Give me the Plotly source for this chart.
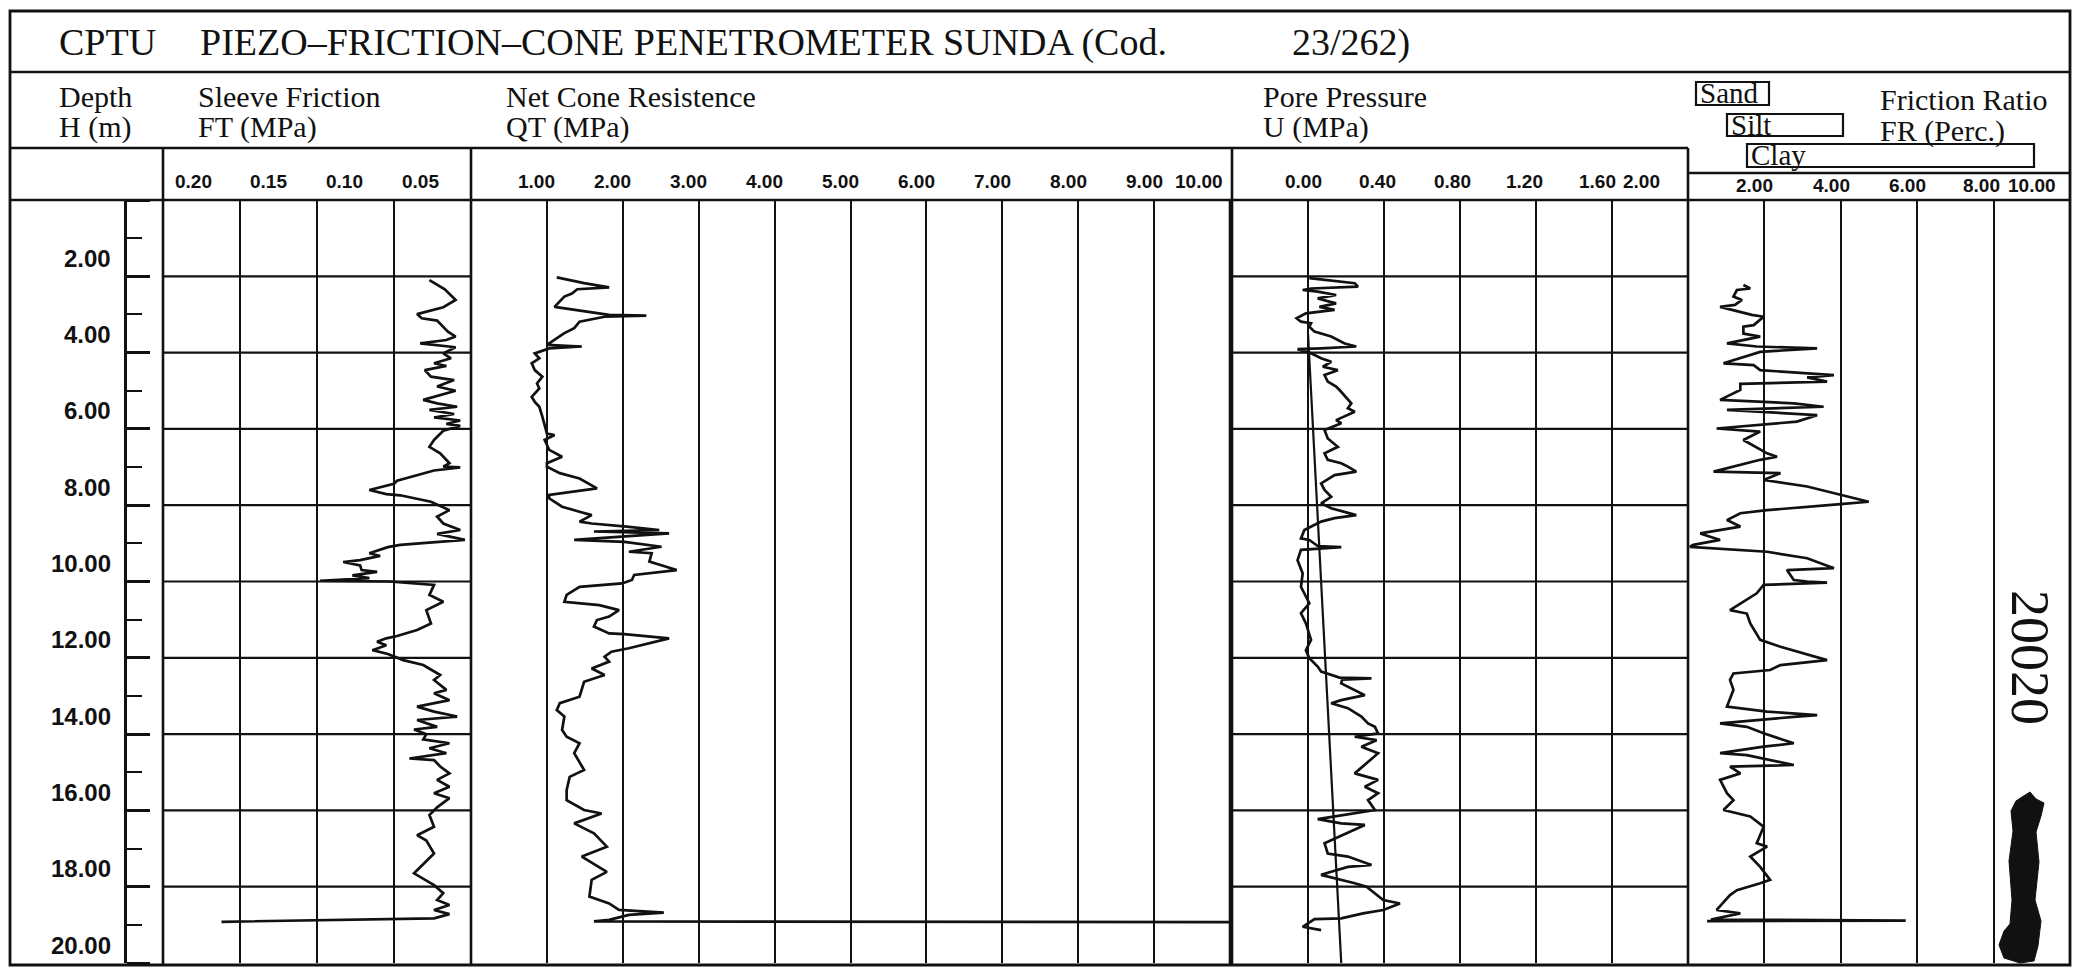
import plotly.graph_objects as go

W, H = 2074, 968

# ---------------- CPTU sounding data (depth in m) ----------------
ft_depth = [2.10, 2.34, 2.62, 2.81, 2.99, 3.10, 3.16, 3.45, 3.58, 3.67, 3.76, 3.86, 4.02, 4.15, 4.28,
            4.35, 4.46, 4.63, 4.72, 4.89, 5.00, 5.09, 5.24, 5.33, 5.42, 5.50, 5.61, 5.70, 5.78, 5.87,
            5.92, 6.05, 6.29, 6.47, 6.64, 6.90, 6.99, 7.01, 7.09, 7.36, 7.44, 7.60, 7.71, 7.74, 7.91,
            8.13, 8.30, 8.48, 8.65, 8.75, 8.91, 9.04, 9.10, 9.26, 9.33, 9.44, 9.49, 9.58, 9.70, 9.75,
            9.84, 9.91, 9.98, 10.00, 10.09, 10.35, 10.53, 10.75, 11.10, 11.27, 11.43, 11.49, 11.58,
            11.67, 11.80, 11.90, 12.06, 12.19, 12.45, 12.58, 12.84, 12.93, 13.11, 13.28, 13.41, 13.54,
            13.63, 13.81, 13.88, 14.00, 14.14, 14.24, 14.37, 14.50, 14.64, 14.68, 14.85, 15.03, 15.20,
            15.38, 15.55, 15.68, 15.92, 16.12, 16.43, 16.65, 16.79, 17.13, 17.65, 17.96, 18.17, 18.35,
            18.48, 18.61, 18.72, 18.83, 18.92]
ft_mpa = [0.027, 0.017, 0.010, 0.018, 0.035, 0.032, 0.022, 0.015, 0.010, 0.016, 0.033, 0.010, 0.018,
          0.013, 0.024, 0.016, 0.030, 0.026, 0.011, 0.022, 0.010, 0.018, 0.031, 0.022, 0.009, 0.027,
          0.011, 0.024, 0.007, 0.016, 0.007, 0.018, 0.024, 0.027, 0.020, 0.014, 0.018, 0.007, 0.024,
          0.048, 0.050, 0.066, 0.055, 0.046, 0.026, 0.014, 0.022, 0.018, 0.007, 0.022, 0.004, 0.046,
          0.054, 0.066, 0.059, 0.072, 0.083, 0.072, 0.071, 0.061, 0.077, 0.066, 0.098, 0.053, 0.024,
          0.027, 0.018, 0.029, 0.026, 0.035, 0.048, 0.055, 0.061, 0.055, 0.064, 0.054, 0.044, 0.031,
          0.020, 0.024, 0.016, 0.024, 0.014, 0.035, 0.024, 0.009, 0.035, 0.022, 0.037, 0.029, 0.031,
          0.014, 0.027, 0.016, 0.040, 0.024, 0.020, 0.014, 0.022, 0.014, 0.024, 0.014, 0.022, 0.027,
          0.024, 0.035, 0.029, 0.024, 0.037, 0.024, 0.018, 0.022, 0.014, 0.024, 0.014, 0.024, 0.162]

qt_depth = [2.03, 2.18, 2.29, 2.34, 2.45, 2.53, 2.80, 2.93, 3.01, 3.03, 3.06, 3.19, 3.36, 3.49, 3.71,
            3.80, 3.84, 3.89, 4.02, 4.15, 4.28, 4.46, 4.63, 4.81, 4.94, 5.16, 5.29, 5.42, 5.68, 5.94,
            6.12, 6.16, 6.29, 6.55, 6.73, 6.90, 6.99, 7.16, 7.30, 7.56, 7.65, 7.73, 7.82, 8.04, 8.17,
            8.26, 8.43, 8.48, 8.56, 8.65, 8.69, 8.74, 8.91, 8.96, 9.09, 9.22, 9.26, 9.48, 9.70, 9.83,
            9.96, 10.05, 10.14, 10.35, 10.53, 10.62, 10.75, 10.92, 11.01, 11.18, 11.36, 11.38, 11.49,
            11.75, 11.84, 11.97, 12.10, 12.28, 12.45, 12.63, 13.02, 13.19, 13.37, 13.54, 13.89, 14.07,
            14.24, 14.50, 14.94, 15.12, 15.47, 15.73, 15.99, 16.08, 16.34, 16.60, 16.95, 17.21, 17.61,
            17.82, 18.26, 18.44, 18.61, 18.68, 18.74, 18.87, 18.91, 18.93]
qt_mpa = [1.13, 1.49, 1.82, 1.40, 1.33, 1.23, 1.10, 1.59, 1.82, 2.31, 1.76, 1.43, 1.36, 1.23, 1.07,
          1.00, 1.46, 1.03, 0.84, 0.90, 0.80, 0.84, 0.94, 0.87, 0.90, 0.80, 0.84, 0.90, 0.94, 0.97,
          1.00, 1.10, 0.97, 1.03, 1.20, 1.00, 1.00, 1.17, 1.43, 1.66, 1.36, 1.03, 1.03, 1.20, 1.43,
          1.59, 1.43, 1.59, 2.05, 2.48, 1.62, 2.61, 1.36, 2.02, 2.51, 2.08, 2.38, 2.35, 2.71, 2.15,
          2.12, 1.99, 1.43, 1.26, 1.23, 1.69, 1.95, 1.82, 1.66, 1.62, 1.82, 2.02, 2.61, 2.08, 1.85,
          1.76, 1.82, 1.59, 1.76, 1.49, 1.43, 1.17, 1.13, 1.23, 1.20, 1.26, 1.43, 1.36, 1.49, 1.30,
          1.26, 1.26, 1.49, 1.72, 1.36, 1.62, 1.79, 1.46, 1.79, 1.59, 1.56, 1.82, 1.95, 2.54, 2.08,
          1.82, 1.62, 10.0]

u_depth = [2.05, 2.18, 2.27, 2.32, 2.36, 2.40, 2.49, 2.58, 2.71, 2.80, 2.88, 2.97, 3.10, 3.19, 3.23,
           3.32, 3.45, 3.58, 3.76, 3.84, 3.89, 3.91, 4.02, 4.15, 4.24, 4.37, 4.46, 4.59, 4.76, 4.89,
           4.98, 5.33, 5.46, 5.55, 5.77, 5.85, 6.03, 6.25, 6.47, 6.64, 6.81, 6.90, 6.99, 7.12, 7.21,
           7.43, 7.60, 7.78, 7.95, 8.08, 8.26, 8.34, 8.43, 8.65, 8.87, 8.91, 9.07, 9.10, 9.17, 9.44,
           9.79, 10.14, 10.57, 10.83, 11.10, 11.53, 11.80, 12.01, 12.23, 12.36, 12.52, 12.54, 12.57,
           12.67, 12.98, 13.11, 13.19, 13.32, 13.54, 13.72, 13.81, 13.98, 14.07, 14.16, 14.33, 14.50,
           15.03, 15.20, 15.38, 15.55, 15.73, 15.99, 16.23, 16.34, 16.38, 16.78, 16.86, 17.13, 17.21,
           17.43, 17.48, 17.61, 17.69, 17.91, 18.00, 18.35, 18.44, 18.61, 18.70, 18.83, 18.85, 19.05,
           19.14]
u_mpa = [0.007, 0.246, 0.263, 0.016, -0.028, 0.051, 0.148, 0.051, 0.148, 0.060, 0.140, -0.011, -0.060,
         -0.037, 0.016, 0.007, 0.034, 0.122, 0.193, 0.254, 0.069, -0.055, 0.016, 0.069, 0.122, 0.078,
         0.157, 0.087, 0.104, 0.148, 0.166, 0.228, 0.210, 0.246, 0.148, 0.175, 0.087, 0.104, 0.157,
         0.087, 0.104, 0.175, 0.210, 0.254, 0.140, 0.069, 0.087, 0.122, 0.069, 0.122, 0.254, 0.140,
         0.069, -0.019, -0.037, 0.007, 0.051, 0.175, -0.037, -0.055, -0.028, -0.037, 0.007, -0.037,
         -0.011, 0.016, -0.011, 0.007, 0.051, 0.069, 0.166, 0.334, 0.180, 0.175, 0.299, 0.175, 0.122,
         0.210, 0.281, 0.316, 0.352, 0.369, 0.246, 0.361, 0.281, 0.369, 0.246, 0.369, 0.299, 0.369,
         0.316, 0.352, 0.051, 0.175, 0.299, 0.122, 0.087, 0.104, 0.210, 0.334, 0.210, 0.122, 0.069,
         0.246, 0.308, 0.396, 0.484, 0.396, 0.290, 0.175, 0.034, -0.028, 0.069]

# hydrostatic pore pressure line
u0_depth = [3.5, 20.0]
u0_mpa = [0.0, 0.175]

fr_depth = [2.23, 2.32, 2.36, 2.53, 2.62, 2.75, 2.80, 3.01, 3.06, 3.28, 3.32, 3.50, 3.58, 3.76, 3.84,
            3.89, 3.98, 4.28, 4.33, 4.46, 4.59, 4.65, 4.76, 4.82, 4.98, 5.24, 5.33, 5.42, 5.50, 5.64,
            5.81, 5.99, 6.07, 6.29, 6.64, 6.73, 6.81, 7.12, 7.16, 7.34, 7.51, 7.73, 7.91, 7.97, 8.13,
            8.21, 8.39, 8.56, 8.74, 8.91, 9.04, 9.09, 9.22, 9.39, 9.65, 9.70, 9.96, 10.00, 10.03, 10.09,
            10.31, 10.75, 10.84, 11.10, 11.53, 11.71, 12.06, 12.19, 12.32, 12.41, 12.58, 12.84, 13.28,
            13.41, 13.50, 13.54, 13.72, 13.81, 13.98, 14.24, 14.33, 14.50, 14.55, 14.81, 14.85, 15.03,
            15.20, 15.55, 15.73, 15.99, 16.16, 16.43, 16.86, 16.95, 17.21, 17.48, 17.82, 17.91, 18.09,
            18.22, 18.61, 18.70, 18.86, 18.89, 18.90]
fr_perc = [1.45, 1.63, 1.28, 1.19, 1.41, 1.23, 0.84, 1.67, 1.98, 1.72, 1.45, 1.45, 1.89, 1.02, 1.80,
           3.38, 1.89, 0.93, 1.72, 1.89, 3.82, 3.12, 3.64, 1.37, 1.37, 0.84, 2.77, 3.55, 1.02, 3.38,
           2.85, 0.75, 1.89, 1.45, 2.07, 2.33, 1.89, 0.67, 2.42, 1.98, 3.12, 3.99, 4.73, 3.99, 2.07,
           1.37, 1.02, 1.37, 0.32, 0.84, 0.14, 0.05, 2.07, 3.12, 3.82, 2.59, 2.77, 3.12, 3.64, 1.98,
           1.80, 1.10, 1.54, 1.63, 1.89, 2.42, 3.64, 2.42, 2.15, 1.19, 1.10, 1.19, 1.02, 2.07, 3.38,
           2.85, 0.84, 1.54, 1.98, 2.77, 1.98, 0.84, 1.54, 2.77, 1.10, 1.37, 0.84, 1.02, 1.19, 0.93,
           1.63, 1.98, 1.80, 2.07, 1.63, 1.89, 2.15, 1.89, 1.28, 1.10, 0.75, 1.37, 0.60, 5.70, 0.50]

# axis scales: tick values and their printed labels
depth_ticks = [2, 4, 6, 8, 10, 12, 14, 16, 18, 20]
depth_labels = ["2.00", "4.00", "6.00", "8.00", "10.00", "12.00", "14.00", "16.00", "18.00", "20.00"]
depth_grid = [2, 4, 6, 8, 10, 12, 14, 16, 18]
ft_ticks = [0.20, 0.15, 0.10, 0.05]
ft_labels = ["0.20", "0.15", "0.10", "0.05"]
qt_ticks = [1, 2, 3, 4, 5, 6, 7, 8, 9, 10]
qt_labels = ["1.00", "2.00", "3.00", "4.00", "5.00", "6.00", "7.00", "8.00", "9.00", "10.00"]
u_ticks = [0.0, 0.4, 0.8, 1.2, 1.6, 2.0]
u_labels = ["0.00", "0.40", "0.80", "1.20", "1.60", "2.00"]
fr_ticks = [2, 4, 6, 8, 10]
fr_labels = ["2.00", "4.00", "6.00", "8.00", "10.00"]


# ---------------- helpers (pixel -> paper) ----------------
def px(x):
    return x / W


def py(y):
    return 1 - y / H


SERIF = "Liberation Serif, DejaVu Serif, serif"
SANS = "Liberation Sans, Arial, sans-serif"
INK = "#111111"

fig = go.Figure()
trace_line = dict(color=INK, width=2.7)
fig.add_trace(go.Scatter(x=ft_mpa, y=ft_depth, xaxis="x", yaxis="y", mode="lines", line=trace_line))
fig.add_trace(go.Scatter(x=qt_mpa, y=qt_depth, xaxis="x2", yaxis="y", mode="lines", line=trace_line))
fig.add_trace(go.Scatter(x=u_mpa, y=u_depth, xaxis="x3", yaxis="y", mode="lines", line=trace_line))
fig.add_trace(go.Scatter(x=u0_mpa, y=u0_depth, xaxis="x3", yaxis="y", mode="lines",
                         line=dict(color=INK, width=2.2)))
fig.add_trace(go.Scatter(x=fr_perc, y=fr_depth, xaxis="x4", yaxis="y", mode="lines", line=trace_line))


def panel_axis(left, right, rng, grid):
    return dict(domain=[px(left), px(right)], range=rng, anchor="y", showgrid=True, gridcolor=INK,
                gridwidth=2.2, tickmode="array", tickvals=grid, showticklabels=False, ticks="",
                zeroline=False, showline=False, fixedrange=True)


# panel extents in pixels
FT_L, FT_R = 163, 471
QT_L, QT_R = 471, 1230
U_L, U_R = 1232, 1688
FR_L, FR_R = 1688, 2070
TOP, BOT = 200, 963

fig.update_layout(
    width=W, height=H, margin=dict(l=0, r=0, t=0, b=0),
    paper_bgcolor="white", plot_bgcolor="white", showlegend=False,
    xaxis=panel_axis(FT_L, FT_R, [0.2, 0.0], ft_ticks),
    xaxis2=panel_axis(QT_L, QT_R, [0, 10], qt_ticks),
    xaxis3=panel_axis(U_L, U_R, [-0.4, 2.0], u_ticks),
    xaxis4=panel_axis(FR_L, FR_R, [0, 10], fr_ticks),
    yaxis=dict(domain=[py(BOT), py(TOP)], range=[20, 0], anchor="free", position=px(125),
               side="right", showline=True, linecolor=INK, linewidth=2.6,
               ticks="outside", ticklen=23, tickwidth=2.6, tickcolor=INK, tick0=0, dtick=2,
               showticklabels=False, showgrid=False, zeroline=False, fixedrange=True,
               minor=dict(ticks="outside", ticklen=15, tickwidth=2.4, tickcolor=INK, dtick=1,
                          showgrid=False)),
)

shapes = []


def hline(y, x0, x1, w=2.6):
    shapes.append(dict(type="line", xref="paper", yref="paper", x0=px(x0), x1=px(x1),
                       y0=py(y), y1=py(y), line=dict(color=INK, width=w)))


def vline(x, y0, y1, w=2.6):
    shapes.append(dict(type="line", xref="paper", yref="paper", x0=px(x), x1=px(x),
                       y0=py(y0), y1=py(y1), line=dict(color=INK, width=w)))


# outer frame and header bands
shapes.append(dict(type="rect", xref="paper", yref="paper", x0=px(10), x1=px(2070),
                   y0=py(965), y1=py(11), line=dict(color=INK, width=2.8)))
hline(72, 10, 2070)
hline(148, 10, 1688)
hline(173, 1688, 2070)
hline(200, 10, 2070)
for xs in (FT_L, FT_R, U_L, U_R):
    vline(xs, 148, 965)
vline(QT_R, 200, 965)

# horizontal depth grid inside the sleeve friction and pore pressure panels
for ax in ("x", "x3"):
    for d in depth_grid:
        shapes.append(dict(type="line", xref=f"{ax} domain", yref="y", x0=0, x1=1, y0=d, y1=d,
                           line=dict(color=INK, width=2.2)))

# soil-type legend boxes
for (x0, y0, x1, y1) in [(1696, 82, 1769, 105), (1727, 114, 1843, 136), (1747, 144, 2034, 167)]:
    shapes.append(dict(type="rect", xref="paper", yref="paper", x0=px(x0), x1=px(x1),
                       y0=py(y1), y1=py(y0), line=dict(color=INK, width=2.2)))

# inked mark in the friction ratio column
blob = [(2022, 797), (2030, 792), (2036, 799), (2044, 803), (2041, 816), (2036, 832), (2039, 862),
        (2035, 900), (2041, 921), (2038, 946), (2034, 961), (2020, 963), (2004, 958), (1999, 945),
        (2004, 931), (2010, 924), (2012, 900), (2009, 861), (2013, 831), (2011, 811), (2016, 801)]
path = "M " + " L ".join(f"{px(x):.5f},{py(y):.5f}" for x, y in blob) + " Z"
shapes.append(dict(type="path", xref="paper", yref="paper", path=path, fillcolor=INK,
                   line=dict(color=INK, width=1)))

fig.update_layout(shapes=shapes)

ann = []


def text(x, y, s, size, family=SERIF, anchor="left", **kw):
    ann.append(dict(x=px(x), y=py(y), xref="paper", yref="paper", text=s, showarrow=False,
                    xanchor=anchor, yanchor="middle", font=dict(family=family, size=size, color=INK),
                    **kw))


# title band
text(57, 42, "CPTU", 38)
text(198, 42, "PIEZO–FRICTION–CONE PENETROMETER SUNDA (Cod.", 38)
text(1290, 42, "23/262)", 38)

# column headers
text(57, 96, "Depth", 30)
text(57, 127, "H (m)", 30)
text(196, 96, "Sleeve Friction", 30)
text(196, 127, "FT (MPa)", 30)
text(504, 96, "Net Cone Resistence", 30)
text(504, 127, "QT (MPa)", 30)
text(1261, 96, "Pore Pressure", 30)
text(1261, 127, "U (MPa)", 30)
text(1878, 99, "Friction Ratio", 30)
text(1878, 131, "FR (Perc.)", 30)
text(1698, 93, "Sand", 29)
text(1729, 125, "Silt", 29)
text(1749, 155, "Clay", 29)

# handwritten reference number
text(2030, 657, "20020", 54, family=SERIF, anchor="center", textangle=90)


def tick_labels(axis, vals, labels, shifts, y):
    for v, s, sh in zip(vals, labels, shifts):
        ann.append(dict(x=v, y=py(y), xref=axis, yref="paper", text=s, showarrow=False,
                        xanchor="center", yanchor="middle", xshift=sh,
                        font=dict(family=SANS, size=19, color=INK, weight="bold")))


tick_labels("x", ft_ticks, ft_labels, [30, 28, 27, 26], 181)
tick_labels("x2", qt_ticks, qt_labels, [-10] * 9 + [-31], 181)
tick_labels("x3", u_ticks, u_labels, [-5, -7, -8, -12, -15, -47], 181)
tick_labels("x4", fr_ticks, fr_labels, [-10, -9, -10, -12, -38], 186)

# depth scale labels, printed just above their tick
for d, s in zip(depth_ticks, depth_labels):
    ann.append(dict(x=px(113), y=d, xref="paper", yref="y", text=s, showarrow=False,
                    xanchor="right", yanchor="middle", yshift=18,
                    font=dict(family=SANS, size=24, color=INK, weight="bold")))

fig.update_layout(annotations=ann)

fig.write_html("out.html", config={"displayModeBar": False})
